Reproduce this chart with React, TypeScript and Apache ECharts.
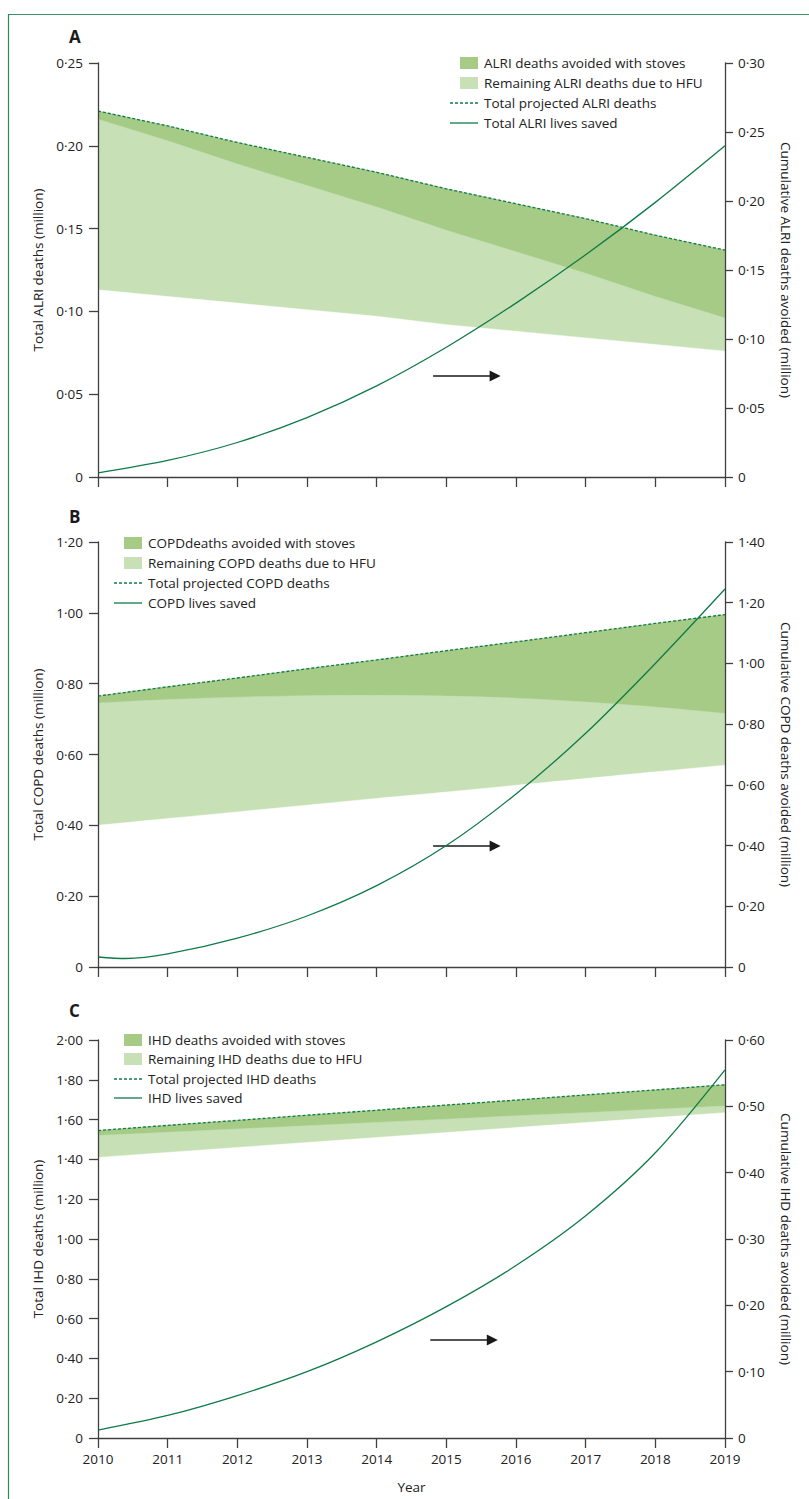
import React, { useEffect, useRef } from "react";
import * as echarts from "echarts";

const YEARS = [2010, 2011, 2012, 2013, 2014, 2015, 2016, 2017, 2018, 2019];

// Panel A – ALRI
const alriTotal = [0.221, 0.212, 0.202, 0.193, 0.184, 0.174, 0.165, 0.156, 0.146, 0.137];
const alriRemainingTop = [0.216, 0.203, 0.189, 0.176, 0.163, 0.149, 0.136, 0.123, 0.109, 0.096];
const alriRemainingBottom = [0.113, 0.109, 0.105, 0.101, 0.097, 0.092, 0.088, 0.084, 0.08, 0.076];
const alriSavedX = [2010, 2011, 2012, 2013, 2014, 2015, 2016, 2017, 2018, 2019];
const alriSaved = [0.003, 0.012, 0.025, 0.043, 0.066, 0.094, 0.126, 0.161, 0.199, 0.24];

// Panel B – COPD
const copdTotal = [0.765, 0.791, 0.816, 0.842, 0.867, 0.893, 0.918, 0.944, 0.97, 0.995];
const copdRemainingTop = [0.745, 0.755, 0.762, 0.766, 0.767, 0.765, 0.759, 0.748, 0.734, 0.716];
const copdRemainingBottom = [0.4, 0.419, 0.438, 0.457, 0.476, 0.494, 0.513, 0.532, 0.551, 0.57];
const copdSavedX = [2010, 2010.4, 2011, 2012, 2013, 2014, 2015, 2016, 2017, 2018, 2019];
const copdSaved = [0.033, 0.028, 0.043, 0.095, 0.168, 0.268, 0.4, 0.57, 0.77, 1.0, 1.245];

// Panel C – IHD
const ihdTotal = [1.545, 1.571, 1.596, 1.622, 1.647, 1.673, 1.698, 1.724, 1.749, 1.775];
const ihdRemainingTop = [1.52, 1.536, 1.553, 1.569, 1.586, 1.602, 1.619, 1.635, 1.652, 1.668];
const ihdRemainingBottom = [1.41, 1.435, 1.46, 1.485, 1.51, 1.535, 1.56, 1.585, 1.61, 1.635];
const ihdSavedX = [2010, 2011, 2012, 2013, 2014, 2015, 2016, 2017, 2018, 2019];
const ihdSaved = [0.012, 0.034, 0.064, 0.1, 0.145, 0.198, 0.26, 0.335, 0.43, 0.555];

// Arrow annotations (left-axis units)
const arrowA = { x: [2014.81, 2015.7], y: 0.061 };
const arrowB = { x: [2014.81, 2015.7], y: 0.342 };
const arrowC = { x: [2014.77, 2015.66], y: 0.492 };

const DARK = "#a5cb87";
const LIGHT = "#c7e0b6";
const LINE = "#0f7b48";
const TEXT = "#222222";
const AXIS = "#404040";
const FONT = '"Open Sans", "Noto Sans", sans-serif';
const FS = 13.5;

const fmt = (v: number) => (v === 0 ? "0" : v.toFixed(2).replace(".", "·"));

type PanelCfg = {
  letter: string;
  top: number;
  height: number;
  leftMax: number;
  leftInterval: number;
  rightMax: number;
  rightInterval: number;
  leftName: string;
  rightName: string;
  total: number[];
  remTop: number[];
  remBottom: number[];
  savedX: number[];
  saved: number[];
  arrow: { x: number[]; y: number };
  legend: string[];
  showX: boolean;
  bandSmooth: number | false;
  legendIconRight: number;
  legendRows: number[];
  letterY: number;
};

const panels: PanelCfg[] = [
  {
    letter: "A",
    top: 63,
    height: 414,
    leftMax: 0.25,
    leftInterval: 0.05,
    rightMax: 0.3,
    rightInterval: 0.05,
    leftName: "Total ALRI deaths (million)",
    rightName: "Cumulative ALRI deaths avoided (million)",
    total: alriTotal,
    remTop: alriRemainingTop,
    remBottom: alriRemainingBottom,
    savedX: alriSavedX,
    saved: alriSaved,
    arrow: arrowA,
    legend: [
      "ALRI deaths avoided with stoves",
      "Remaining ALRI deaths due to HFU",
      "Total projected ALRI deaths",
      "Total ALRI lives saved",
    ],
    showX: false,
    bandSmooth: false,
    legendIconRight: 478,
    legendRows: [63, 83, 103, 123],
    letterY: 36,
  },
  {
    letter: "B",
    top: 542,
    height: 425,
    leftMax: 1.2,
    leftInterval: 0.2,
    rightMax: 1.4,
    rightInterval: 0.2,
    leftName: "Total COPD deaths (million)",
    rightName: "Cumulative COPD deaths avoided (million)",
    total: copdTotal,
    remTop: copdRemainingTop,
    remBottom: copdRemainingBottom,
    savedX: copdSavedX,
    saved: copdSaved,
    arrow: arrowB,
    legend: [
      "COPDdeaths avoided with stoves",
      "Remaining COPD deaths due to HFU",
      "Total projected COPD deaths",
      "COPD lives saved",
    ],
    showX: false,
    bandSmooth: 0.35,
    legendIconRight: 142,
    legendRows: [543, 563, 583, 603],
    letterY: 516,
  },
  {
    letter: "C",
    top: 1040,
    height: 398,
    leftMax: 2.0,
    leftInterval: 0.2,
    rightMax: 0.6,
    rightInterval: 0.1,
    leftName: "Total IHD deaths (million)",
    rightName: "Cumulative IHD deaths avoided (million)",
    total: ihdTotal,
    remTop: ihdRemainingTop,
    remBottom: ihdRemainingBottom,
    savedX: ihdSavedX,
    saved: ihdSaved,
    arrow: arrowC,
    legend: [
      "IHD deaths avoided with stoves",
      "Remaining IHD deaths due to HFU",
      "Total projected IHD deaths",
      "IHD lives saved",
    ],
    showX: true,
    bandSmooth: false,
    legendIconRight: 142,
    legendRows: [1040, 1059, 1079, 1098],
    letterY: 1010,
  },
];

function buildOption() {
  const grid: any[] = [];
  const xAxis: any[] = [];
  const yAxis: any[] = [];
  const series: any[] = [];
  const graphic: any[] = [];

  graphic.push({
    type: "line",
    silent: true,
    shape: { x1: 8, y1: 14.5, x2: 809, y2: 14.5 },
    style: { stroke: "#3b9566", lineWidth: 1.2 },
  });
  graphic.push({
    type: "line",
    silent: true,
    shape: { x1: 8.5, y1: 14, x2: 8.5, y2: 1499 },
    style: { stroke: "#2f8a52", lineWidth: 1.2 },
  });

  panels.forEach((p, i) => {
    grid.push({ left: 98, right: 84, top: p.top, height: p.height, containLabel: false });
    xAxis.push({
      type: "value",
      gridIndex: i,
      min: 2010,
      max: 2019,
      interval: 1,
      z: 10,
      name: p.showX ? "Year" : "",
      nameLocation: "middle",
      nameGap: 42,
      nameTextStyle: { color: TEXT, fontSize: FS, fontFamily: FONT },
      axisLine: { show: true, onZero: false, lineStyle: { color: AXIS, width: 1.3 } },
      axisTick: { show: true, inside: false, length: 10, lineStyle: { color: AXIS, width: 1.3 } },
      axisLabel: {
        show: p.showX,
        margin: 14,
        color: TEXT,
        fontSize: FS,
        fontFamily: FONT,
        formatter: (v: number) => String(v),
      },
      splitLine: { show: false },
    });
    yAxis.push({
      type: "value",
      gridIndex: i,
      position: "left",
      min: 0,
      max: p.leftMax,
      interval: p.leftInterval,
      z: 10,
      name: p.leftName,
      nameLocation: "middle",
      nameRotate: 90,
      nameGap: 52,
      nameTextStyle: { color: TEXT, fontSize: FS, fontFamily: FONT },
      axisLine: { show: true, lineStyle: { color: AXIS, width: 1.3 } },
      axisTick: { show: true, inside: false, length: 9, lineStyle: { color: AXIS, width: 1.3 } },
      axisLabel: { color: TEXT, fontSize: FS, fontFamily: FONT, margin: 15, formatter: fmt },
      splitLine: { show: false },
    });
    yAxis.push({
      type: "value",
      gridIndex: i,
      position: "right",
      min: 0,
      max: p.rightMax,
      interval: p.rightInterval,
      z: 10,
      name: p.rightName,
      nameLocation: "middle",
      nameRotate: -90,
      nameGap: 54,
      nameTextStyle: { color: TEXT, fontSize: FS, fontFamily: FONT },
      axisLine: { show: true, lineStyle: { color: AXIS, width: 1.3 } },
      axisTick: { show: true, inside: false, length: 8, lineStyle: { color: AXIS, width: 1.3 } },
      axisLabel: { color: TEXT, fontSize: FS, fontFamily: FONT, margin: 13, formatter: fmt },
      splitLine: { show: false },
    });

    const smooth = p.bandSmooth;
    const areaSeries = (name: string, vals: number[], color: string, z: number) => ({
      type: "line",
      name,
      xAxisIndex: i,
      yAxisIndex: 2 * i,
      symbol: "none",
      showSymbol: false,
      silent: true,
      smooth,
      z,
      data: YEARS.map((y, k) => [y, vals[k]]),
      itemStyle: { color },
      lineStyle: { color, width: 0.5 },
      areaStyle: { color, opacity: 1, origin: "start" },
    });
    // avoided band (total down to remaining top), remaining band, and the
    // unfilled region below the lower bound
    series.push(areaSeries(p.legend[0], p.total, DARK, 1));
    series.push(areaSeries(p.legend[1], p.remTop, LIGHT, 2));
    series.push(areaSeries("below" + i, p.remBottom, "#ffffff", 3));

    series.push({
      type: "line",
      name: p.legend[2],
      xAxisIndex: i,
      yAxisIndex: 2 * i,
      symbol: "none",
      showSymbol: false,
      silent: true,
      smooth,
      data: YEARS.map((y, k) => [y, p.total[k]]),
      lineStyle: { color: LINE, width: 1.3, type: [3, 2] },
      itemStyle: { color: LINE },
      z: 4,
      markLine: {
        silent: true,
        symbol: ["none", "triangle"],
        symbolSize: 11,
        label: { show: false },
        lineStyle: { color: "#1a1a1a", width: 1.6, type: "solid" },
        data: [
          [
            { coord: [p.arrow.x[0], p.arrow.y] },
            { coord: [p.arrow.x[1], p.arrow.y] },
          ],
        ],
      },
    });
    series.push({
      type: "line",
      name: p.legend[3],
      xAxisIndex: i,
      yAxisIndex: 2 * i + 1,
      symbol: "none",
      showSymbol: false,
      silent: true,
      smooth: 0.3,
      data: p.savedX.map((x, k) => [x, p.saved[k]]),
      lineStyle: { color: LINE, width: 1.3 },
      itemStyle: { color: LINE },
      z: 5,
    });

    graphic.push({
      type: "text",
      x: 69,
      y: p.letterY,
      silent: true,
      style: {
        text: p.letter,
        fill: "#1a1a1a",
        fontSize: 17,
        fontWeight: "bold",
        fontFamily: FONT,
        verticalAlign: "middle",
      },
    });

    const r = p.legendIconRight;
    const rows = p.legendRows;
    graphic.push({
      type: "rect",
      silent: true,
      shape: { x: r - 18, y: rows[0] - 6, width: 18, height: 12 },
      style: { fill: DARK },
    });
    graphic.push({
      type: "rect",
      silent: true,
      shape: { x: r - 18, y: rows[1] - 6, width: 18, height: 12 },
      style: { fill: LIGHT },
    });
    graphic.push({
      type: "line",
      silent: true,
      shape: { x1: r - 28, y1: rows[2], x2: r, y2: rows[2] },
      style: { stroke: LINE, lineWidth: 1.3, lineDash: [3, 2] },
    });
    graphic.push({
      type: "line",
      silent: true,
      shape: { x1: r - 28, y1: rows[3], x2: r, y2: rows[3] },
      style: { stroke: LINE, lineWidth: 1.3 },
    });
    p.legend.forEach((t, k) => {
      graphic.push({
        type: "text",
        x: r + 6,
        y: rows[k],
        silent: true,
        style: {
          text: t,
          fill: TEXT,
          fontSize: FS,
          fontFamily: FONT,
          verticalAlign: "middle",
        },
      });
    });
  });

  return {
    animation: false,
    backgroundColor: "#ffffff",
    textStyle: { fontFamily: FONT },
    grid,
    xAxis,
    yAxis,
    series,
    graphic,
  };
}

export default function App() {
  const ref = useRef<HTMLDivElement>(null);
  useEffect(() => {
    if (!ref.current) return;
    const chart = echarts.init(ref.current, undefined, { renderer: "svg" });
    chart.setOption(buildOption() as any);
    return () => chart.dispose();
  }, []);
  return (
    <div
      ref={ref}
      style={{ position: "absolute", left: 0, top: 0, width: 809, height: 1499, background: "#fff" }}
    />
  );
}
